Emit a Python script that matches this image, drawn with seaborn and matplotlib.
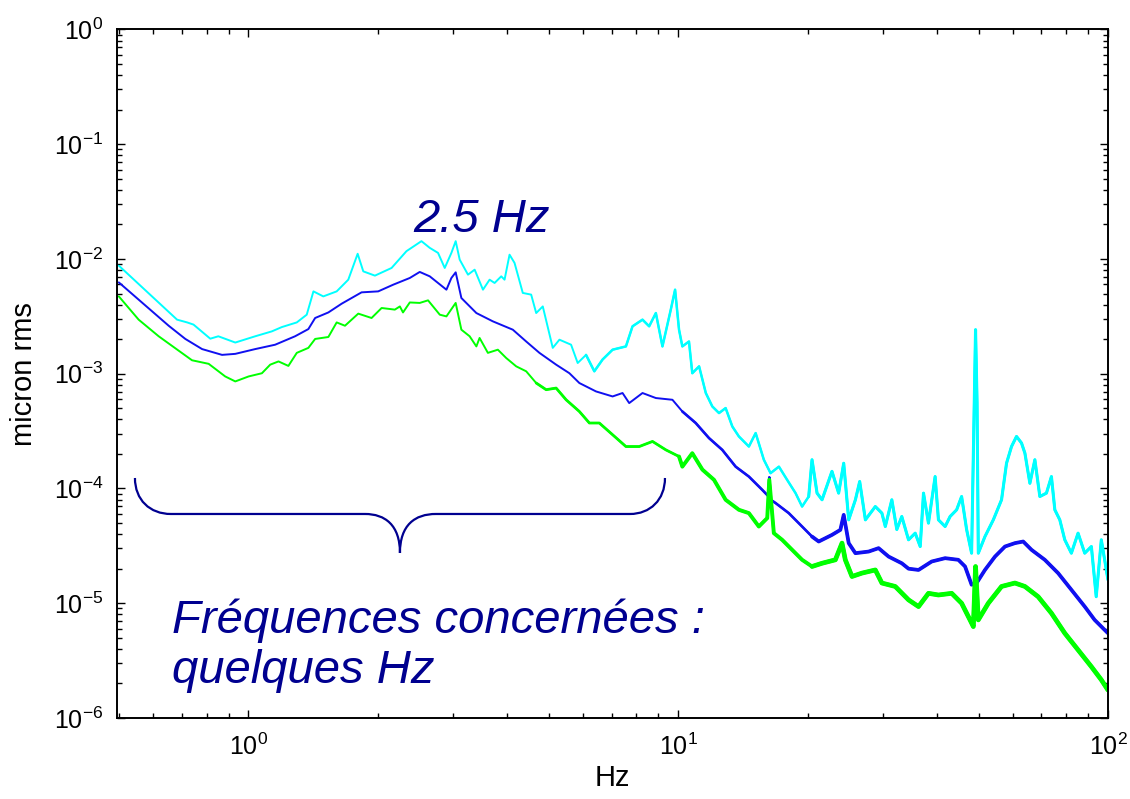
import numpy as np
import pandas as pd
import matplotlib
matplotlib.use("Agg")
import matplotlib.pyplot as plt
import seaborn as sns
from matplotlib.path import Path
from matplotlib.patches import PathPatch
from matplotlib.ticker import FixedLocator, LogLocator, NullFormatter

# ---------------- data ----------------
cyan_f = [0.5, 0.683, 0.721, 0.746, 0.816, 0.852, 0.933, 1.038, 1.135, 1.197, 1.297, 1.368, 1.418, 1.495,
          1.606, 1.709, 1.797, 1.852, 1.971, 2.155, 2.334, 2.529, 2.644, 2.764, 2.865, 2.969, 3.038, 3.104,
          3.245, 3.363, 3.516, 3.643, 3.742, 3.878, 3.947, 4.054, 4.164, 4.352, 4.552, 4.676, 4.844, 5.11,
          5.296, 5.637, 5.84, 6.107, 6.384, 6.673, 7.041, 7.562, 7.834, 8.264, 8.564, 8.877, 9.196, 9.616,
          9.84, 10.05, 10.23, 10.6, 10.79, 11.19, 11.6, 12.01, 12.45, 12.9, 13.37, 13.85, 14.61, 15.15,
          15.83, 16.41, 17.16, 17.93, 18.76, 19.43, 20.13, 20.49, 21.05, 21.62, 22.8, 23.63, 24.28, 24.94,
          25.85, 26.45, 27.27, 28.76, 29.79, 30.34, 31.42, 32.27, 33.14, 34.36, 35.61, 36.58, 37.23, 38.23,
          39.62, 40.33, 41.8, 42.93, 44.46, 45.66, 46.9, 48.17, 49.2, 49.6, 49.93, 51.74, 54.11, 56.55,
          58.08, 59.65, 61.27, 62.93, 64.09, 65.82, 67.6, 69.43, 71.92, 73.87, 75.23, 77.26, 79.35, 82.2,
          85.2, 88.3, 91.5, 93.9, 96.5, 100]
cyan_v = [8.75e-3, 2.96e-3, 2.80e-3, 2.68e-3, 2.02e-3, 2.12e-3, 1.87e-3, 2.12e-3, 2.34e-3, 2.55e-3, 2.80e-3,
          3.27e-3, 5.22e-3, 4.72e-3, 5.22e-3, 6.60e-3, 1.11e-2, 7.80e-3, 7.16e-3, 8.35e-3, 1.17e-2, 1.43e-2,
          1.25e-2, 1.13e-2, 8.35e-3, 1.13e-2, 1.43e-2, 9.87e-3, 7.30e-3, 8.07e-3, 5.40e-3, 6.60e-3, 6.18e-3,
          7.06e-3, 6.60e-3, 1.09e-2, 9.24e-3, 5.06e-3, 4.89e-3, 3.38e-3, 3.86e-3, 1.68e-3, 1.98e-3, 1.79e-3,
          1.24e-3, 1.46e-3, 1.05e-3, 1.33e-3, 1.62e-3, 1.73e-3, 2.59e-3, 2.96e-3, 2.59e-3, 3.38e-3, 1.73e-3,
          3.62e-3, 5.40e-3, 2.42e-3, 1.73e-3, 1.91e-3, 1.01e-3, 1.16e-3, 6.79e-4, 5.19e-4, 4.54e-4, 5.02e-4,
          3.47e-4, 2.84e-4, 2.32e-4, 3.04e-4, 1.78e-4, 1.36e-4, 1.55e-4, 1.19e-4, 9.11e-5, 6.96e-5, 8.51e-5,
          1.78e-4, 9.11e-5, 7.97e-5, 1.41e-4, 9.11e-5, 1.66e-4, 5.33e-5, 7.97e-5, 1.15e-4, 5.33e-5, 6.96e-5,
          6.10e-5, 4.66e-5, 7.97e-5, 4.39e-5, 5.70e-5, 3.57e-5, 4.08e-5, 3.12e-5, 9.11e-5, 4.99e-5, 1.27e-4,
          5.33e-5, 4.66e-5, 5.70e-5, 6.52e-5, 8.51e-5, 4.39e-5, 2.73e-5, 2.42e-3, 5.59e-4, 2.73e-5, 3.81e-5,
          5.33e-5, 7.97e-5, 1.66e-4, 2.32e-4, 2.84e-4, 2.49e-4, 2.03e-4, 1.11e-4, 1.78e-4, 8.51e-5, 9.11e-5,
          1.27e-4, 6.52e-5, 5.33e-5, 3.57e-5, 2.73e-5, 4.08e-5, 2.73e-5, 3.12e-5, 1.14e-5, 3.57e-5, 1.60e-5]

blue_f = [0.5, 0.653, 0.714, 0.781, 0.869, 0.933, 1.038, 1.155, 1.285, 1.38, 1.431, 1.536, 1.65, 1.835,
          2.006, 2.174, 2.376, 2.506, 2.644, 2.891, 2.969, 3.038, 3.132, 3.394, 3.708, 4.126, 4.432, 4.758,
          5.203, 5.587, 5.892, 6.443, 7.041, 7.426, 7.696, 8.264, 8.877, 9.701, 10.23, 10.99, 11.8, 12.67,
          13.61, 14.61, 15.69, 16.2, 16.3, 16.4, 16.86, 18.09, 19.43, 20.49, 21.24, 22.8, 23.85, 24.28,
          24.94, 25.85, 27.75, 29.27, 30.88, 33.14, 34.36, 36.25, 38.9, 41.8, 44.87, 46.51, 48.17, 49.48,
          51.74, 54.6, 57.6, 60.75, 63.5, 66.4, 71.3, 76.56, 82.2, 88.3, 93.1, 100]
blue_v = [6.25e-3, 2.62e-3, 2.01e-3, 1.64e-3, 1.46e-3, 1.49e-3, 1.64e-3, 1.79e-3, 2.12e-3, 2.45e-3, 3.06e-3,
          3.42e-3, 4.08e-3, 5.12e-3, 5.22e-3, 5.97e-3, 6.83e-3, 7.71e-3, 7.06e-3, 5.40e-3, 6.83e-3, 7.65e-3,
          4.57e-3, 3.38e-3, 2.86e-3, 2.42e-3, 1.91e-3, 1.52e-3, 1.20e-3, 1.01e-3, 8.30e-4, 7.01e-4, 6.34e-4,
          6.79e-4, 5.55e-4, 6.79e-4, 6.14e-4, 5.93e-4, 4.69e-4, 3.72e-4, 2.75e-4, 2.17e-4, 1.55e-4, 1.27e-4,
          9.74e-5, 8.6e-5, 1.25e-4, 8.0e-5, 7.46e-5, 6.10e-5, 4.66e-5, 3.81e-5, 3.45e-5, 3.94e-5, 4.36e-5,
          5.89e-5, 3.34e-5, 2.73e-5, 2.82e-5, 3.02e-5, 2.55e-5, 2.23e-5, 2.0e-5, 1.95e-5, 2.31e-5, 2.47e-5,
          2.39e-5, 2.09e-5, 1.45e-5, 1.50e-5, 1.95e-5, 2.55e-5, 3.12e-5, 3.34e-5, 3.45e-5, 2.92e-5, 2.39e-5,
          1.83e-5, 1.31e-5, 9.35e-6, 7.16e-6, 5.48e-6]

green_f = [0.5, 0.556, 0.619, 0.74, 0.809, 0.884, 0.933, 1.002, 1.076, 1.125, 1.176, 1.24, 1.297, 1.38,
           1.431, 1.536, 1.606, 1.679, 1.803, 1.936, 2.043, 2.193, 2.253, 2.291, 2.376, 2.506, 2.62, 2.79,
           2.891, 3.038, 3.132, 3.274, 3.394, 3.453, 3.61, 3.808, 3.983, 4.201, 4.432, 4.676, 4.932, 5.203,
           5.489, 5.892, 6.217, 6.557, 7.041, 7.562, 8.12, 8.719, 9.365, 10.05, 10.23, 10.79, 11.39, 12.12,
           12.9, 13.85, 14.61, 15.41, 16.12, 16.3, 16.7, 17.46, 18.42, 19.43, 20.49, 21.62, 23.22, 24.06,
           24.49, 25.38, 26.77, 28.76, 29.79, 32.0, 34.36, 36.25, 38.23, 40.33, 43.3, 45.66, 47.76, 48.62,
           49.2, 49.93, 52.68, 56.55, 60.75, 64.09, 68.8, 73.87, 79.35, 85.2, 91.5, 96.5, 100]
green_v = [4.72e-3, 2.96e-3, 2.12e-3, 1.31e-3, 1.22e-3, 9.47e-4, 8.57e-4, 9.47e-4, 1.01e-3, 1.20e-3, 1.28e-3,
           1.17e-3, 1.52e-3, 1.68e-3, 2.01e-3, 2.09e-3, 2.80e-3, 2.62e-3, 3.34e-3, 3.06e-3, 3.74e-3, 3.62e-3,
           3.86e-3, 3.42e-3, 4.18e-3, 4.14e-3, 4.36e-3, 3.27e-3, 3.16e-3, 4.14e-3, 2.42e-3, 2.12e-3, 1.73e-3,
           2.05e-3, 1.52e-3, 1.62e-3, 1.37e-3, 1.16e-3, 1.05e-3, 8.30e-4, 7.26e-4, 7.50e-4, 5.93e-4, 4.69e-4,
           3.72e-4, 3.72e-4, 2.94e-4, 2.32e-4, 2.32e-4, 2.57e-4, 2.17e-4, 1.90e-4, 1.55e-4, 2.03e-4, 1.46e-4,
           1.19e-4, 7.97e-5, 6.52e-5, 6.10e-5, 4.66e-5, 5.52e-5, 1.19e-4, 4.08e-5, 3.57e-5, 2.92e-5, 2.39e-5,
           2.09e-5, 2.23e-5, 2.39e-5, 3.34e-5, 2.39e-5, 1.71e-5, 1.83e-5, 1.95e-5, 1.50e-5, 1.40e-5, 1.07e-5,
           9.35e-6, 1.22e-5, 1.18e-5, 1.22e-5, 1.00e-5, 7.16e-6, 6.26e-6, 2.09e-5, 7.16e-6, 1.00e-5, 1.40e-5,
           1.50e-5, 1.40e-5, 1.14e-5, 8.19e-6, 5.48e-6, 3.92e-6, 2.80e-6, 2.15e-6, 1.75e-6]

series_names = ["cyan", "blue", "green"]
series_colors = {"cyan": "#00FFFF", "blue": "#1010F0", "green": "#00FF00"}

x_ticks = [1, 10, 100]
y_ticks = [1e-6, 1e-5, 1e-4, 1e-3, 1e-2, 1e-1, 1]
x_tick_labels = ["$10^{0}$", "$10^{1}$", "$10^{2}$"]
y_tick_labels = ["$10^{-6}$", "$10^{-5}$", "$10^{-4}$", "$10^{-3}$", "$10^{-2}$", "$10^{-1}$", "$10^{0}$"]

x_label = "Hz"
y_label = "micron rms"
peak_label = "2.5 Hz"
range_label = "Fréquences concernées :\nquelques Hz"

# ---------------- styling ----------------
sns.set_theme(style="white")
plt.rcParams["font.family"] = ["Liberation Sans", "DejaVu Sans"]
plt.rcParams["mathtext.fontset"] = "custom"
plt.rcParams["mathtext.rm"] = "Liberation Sans"
plt.rcParams["mathtext.it"] = "Liberation Sans:italic"

series_data = {"cyan": (cyan_f, cyan_v), "blue": (blue_f, blue_v), "green": (green_f, green_v)}
# the noisy high-frequency part of each trace looks heavier in the reference:
# (start frequency, line width) for successive bands
width_bands = {"cyan": [(0.0, 1.4), (6.0, 1.8), (20.0, 2.2)],
               "blue": [(0.0, 1.4), (10.0, 1.9), (20.0, 2.7)],
               "green": [(0.0, 1.4), (4.5, 2.0), (10.0, 2.8), (20.0, 3.4)]}

fig = plt.figure(figsize=(11.3, 7.99), dpi=100)
ax = fig.add_axes([0.1035, 0.1014, 0.8770, 0.8617])

for name in series_names:
    f, v = series_data[name]
    d = pd.DataFrame({"freq": f, "amp": v})
    for start, lw in width_bands[name]:
        part = d[d["freq"] >= start]
        sns.lineplot(data=part, x="freq", y="amp", color=series_colors[name], estimator=None,
                     sort=False, linewidth=lw, ax=ax)

ax.set_xscale("log")
ax.set_yscale("log")
ax.set_xlim(0.495, 100)
ax.set_ylim(1e-6, 1)

ax.xaxis.set_major_locator(FixedLocator(x_ticks))
ax.yaxis.set_major_locator(FixedLocator(y_ticks))
ax.set_xticklabels(x_tick_labels)
ax.set_yticklabels(y_tick_labels)
ax.xaxis.set_minor_locator(LogLocator(base=10, subs=np.arange(2, 10), numticks=20))
ax.yaxis.set_minor_locator(LogLocator(base=10, subs=np.arange(2, 10), numticks=20))
ax.xaxis.set_minor_formatter(NullFormatter())
ax.yaxis.set_minor_formatter(NullFormatter())

for sp in ax.spines.values():
    sp.set_visible(True)
    sp.set_color("black")
    sp.set_linewidth(1.4)

ax.tick_params(which="both", direction="in", top=True, right=True, bottom=True, left=True,
               color="black", width=1.0)
ax.tick_params(which="major", length=6, labelsize=18, labelcolor="black")
ax.tick_params(axis="x", which="major", pad=11)
ax.tick_params(axis="y", which="major", pad=10)
ax.tick_params(which="minor", length=3.5)
ax.grid(False)

ax.set_xlabel(x_label, fontsize=21, color="black", labelpad=3)
ax.set_ylabel(y_label, fontsize=21, color="black", labelpad=11)

navy = "#000090"
ax.text(0.2987, 0.706, peak_label, transform=ax.transAxes, fontsize=34, style="italic",
        color=navy, ha="left", va="baseline")
ax.text(0.0555, 0.0508, range_label, transform=ax.transAxes, fontsize=34, style="italic",
        color=navy, ha="left", va="baseline", linespacing=1.17)

# curly brace (annotation shape, axes-fraction coordinates)
def af(px, py):
    return ((px - 117.0) / 991.0, (718.0 - py) / 688.5)

brace_pts = [af(135, 478), af(135, 500), af(150, 514), af(171, 514),
             af(365, 514),
             af(385, 514), af(400, 525), af(400, 553),
             af(400, 525), af(415, 514), af(436, 514),
             af(630, 514),
             af(650, 514), af(665, 500), af(665, 478)]
brace_codes = [Path.MOVETO, Path.CURVE4, Path.CURVE4, Path.CURVE4,
               Path.LINETO,
               Path.CURVE4, Path.CURVE4, Path.CURVE4,
               Path.CURVE4, Path.CURVE4, Path.CURVE4,
               Path.LINETO,
               Path.CURVE4, Path.CURVE4, Path.CURVE4]
ax.add_patch(PathPatch(Path(brace_pts, brace_codes), transform=ax.transAxes,
                       facecolor="none", edgecolor=navy, linewidth=1.6, clip_on=False))

fig.savefig("out.png", dpi=100, facecolor="white")
